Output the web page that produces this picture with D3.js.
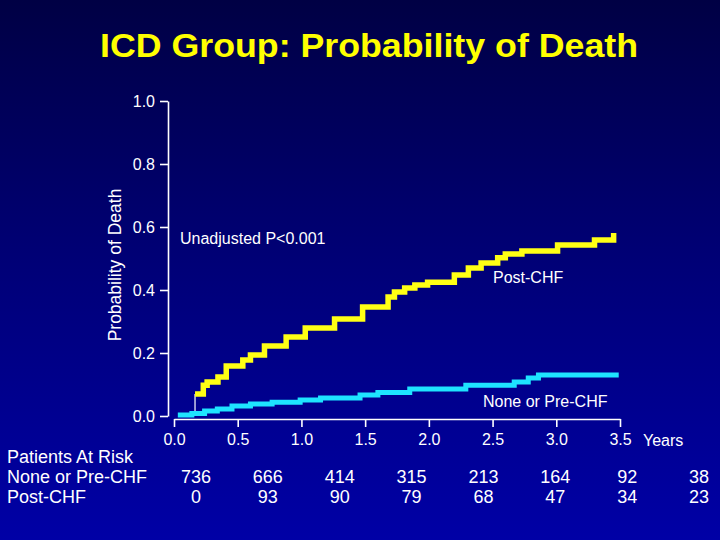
<!DOCTYPE html>
<html>
<head>
<meta charset="utf-8">
<script src="https://cdn.jsdelivr.net/npm/d3@7"></script>
<style>
  html, body { margin: 0; padding: 0; background: #000060; }
  svg { display: block; }
  text { font-family: "Liberation Sans", Arial, sans-serif; }
</style>
</head>
<body>
<script>
// ---- data ----
const title = "ICD Group: Probability of Death";
const yAxisTitle = "Probability of Death";
const xUnit = "Years";
const pValueText = "Unadjusted P<0.001";
const xTicks = [0, 0.5, 1.0, 1.5, 2.0, 2.5, 3.0, 3.5];
const yTicks = [0, 0.2, 0.4, 0.6, 0.8, 1.0];

// Post-CHF (step after): event times (years) and cumulative probability
const postTimes = [0.165, 0.23, 0.26, 0.345, 0.41, 0.54, 0.60, 0.71, 0.88, 1.03, 1.26, 1.48, 1.68, 1.73, 1.81, 1.89, 1.99, 2.20, 2.31, 2.41, 2.54, 2.60, 2.73, 3.01, 3.30, 3.45];
const postProb  = [0.070, 0.098, 0.108, 0.124, 0.159, 0.178, 0.194, 0.222, 0.251, 0.279, 0.308, 0.346, 0.378, 0.394, 0.406, 0.416, 0.425, 0.448, 0.470, 0.486, 0.502, 0.514, 0.524, 0.543, 0.559, 0.581];

// None or Pre-CHF
const noneTimes = [0.03, 0.14, 0.24, 0.34, 0.455, 0.60, 0.77, 0.99, 1.15, 1.46, 1.60, 1.85, 2.29, 2.67, 2.78, 2.86, 3.49];
const noneProb  = [0.003, 0.008, 0.016, 0.022, 0.032, 0.038, 0.044, 0.051, 0.057, 0.067, 0.075, 0.086, 0.098, 0.108, 0.121, 0.130, 0.130];

const seriesNames = ["Post-CHF", "None or Pre-CHF"];

// Patients at risk table
const riskTitle = "Patients At Risk";
const riskNone = [736, 666, 414, 315, 213, 164, 92, 38];
const riskPost = [0, 93, 90, 79, 68, 47, 34, 23];

// ---- drawing ----
const W = 720, H = 540;
const svg = d3.select("body").append("svg").attr("width", W).attr("height", H);

const defs = svg.append("defs");
const grad = defs.append("linearGradient").attr("id", "bg").attr("x1", 0).attr("y1", 0).attr("x2", 0).attr("y2", 1);
grad.append("stop").attr("offset", "0%").attr("stop-color", "#000044");
grad.append("stop").attr("offset", "50%").attr("stop-color", "#000078");
grad.append("stop").attr("offset", "100%").attr("stop-color", "#0000a6");
svg.append("rect").attr("width", W).attr("height", H).attr("fill", "url(#bg)");

const x = d3.scaleLinear().domain([0, 3.5]).range([174, 620]);
const y = d3.scaleLinear().domain([0, 1]).range([416, 101]);

// Title
svg.append("text")
  .attr("x", 369).attr("y", 57)
  .attr("text-anchor", "middle")
  .attr("fill", "#ffff00")
  .attr("font-size", 34).attr("font-weight", "bold")
  .attr("textLength", 538).attr("lengthAdjust", "spacingAndGlyphs")
  .text(title);

// Y axis
const yAxis = svg.append("g").attr("transform", "translate(168,0)")
  .call(d3.axisLeft(y).tickValues(yTicks).tickFormat(d3.format(".1f")).tickSize(8).tickSizeOuter(0).tickPadding(5));
// X axis
const xAxis = svg.append("g").attr("transform", "translate(0,419)")
  .call(d3.axisBottom(x).tickValues(xTicks).tickFormat(d3.format(".1f")).tickSize(8).tickSizeOuter(0).tickPadding(7));

[yAxis, xAxis].forEach(g => {
  g.select(".domain").attr("stroke", "#ffffff").attr("stroke-width", 1.6);
  g.selectAll(".tick line").attr("stroke", "#ffffff").attr("stroke-width", 1.6);
  g.selectAll(".tick text").attr("fill", "#ffffff").attr("font-size", 16)
    .attr("font-family", "Liberation Sans, Arial, sans-serif");
});

svg.append("text").attr("x", 643).attr("y", 446).attr("fill", "#ffffff").attr("font-size", 16).text(xUnit);

// Y title
svg.append("text")
  .attr("transform", "translate(121,265) rotate(-90)")
  .attr("text-anchor", "middle")
  .attr("fill", "#ffffff").attr("font-size", 17.5)
  .text(yAxisTitle);

// curves
const line = d3.line().curve(d3.curveStepAfter).x(d => x(d[0])).y(d => y(d[1]));
const postData = postTimes.map((t, i) => [t, postProb[i]]);
const noneData = noneTimes.map((t, i) => [t, noneProb[i]]);

// connector from zero to first Post-CHF value
svg.append("line")
  .attr("x1", x(postTimes[0])).attr("x2", x(postTimes[0]))
  .attr("y1", y(0)).attr("y2", y(postProb[0]))
  .attr("stroke", "#ffffff").attr("stroke-width", 1.2);

svg.append("path").datum(noneData).attr("d", line)
  .attr("fill", "none").attr("stroke", "#1ee4ff").attr("stroke-width", 5)
  .attr("stroke-linejoin", "miter");
svg.append("path").datum(postData).attr("d", line)
  .attr("fill", "none").attr("stroke", "#ffff14").attr("stroke-width", 5.5)
  .attr("stroke-linejoin", "miter");

// annotations
svg.append("text").attr("x", 180).attr("y", 244).attr("fill", "#ffffff").attr("font-size", 16).text(pValueText);
svg.append("text").attr("x", 493).attr("y", 283).attr("fill", "#ffffff").attr("font-size", 16).text(seriesNames[0]);
svg.append("text").attr("x", 483).attr("y", 407).attr("fill", "#ffffff").attr("font-size", 16).text(seriesNames[1]);

// risk table
const col = d3.scalePoint().domain(d3.range(riskNone.length)).range([196, 699]);
svg.append("text").attr("x", 7).attr("y", 463).attr("fill", "#ffffff").attr("font-size", 18).text(riskTitle);
svg.append("text").attr("x", 7).attr("y", 483).attr("fill", "#ffffff").attr("font-size", 18).text(seriesNames[1]);
svg.append("text").attr("x", 7).attr("y", 503).attr("fill", "#ffffff").attr("font-size", 18).text(seriesNames[0]);
svg.append("g").selectAll("text").data(riskNone).join("text")
  .attr("x", (d, i) => col(i)).attr("y", 483).attr("text-anchor", "middle")
  .attr("fill", "#ffffff").attr("font-size", 18).text(d => d);
svg.append("g").selectAll("text").data(riskPost).join("text")
  .attr("x", (d, i) => col(i)).attr("y", 503).attr("text-anchor", "middle")
  .attr("fill", "#ffffff").attr("font-size", 18).text(d => d);
</script>
</body>
</html>
